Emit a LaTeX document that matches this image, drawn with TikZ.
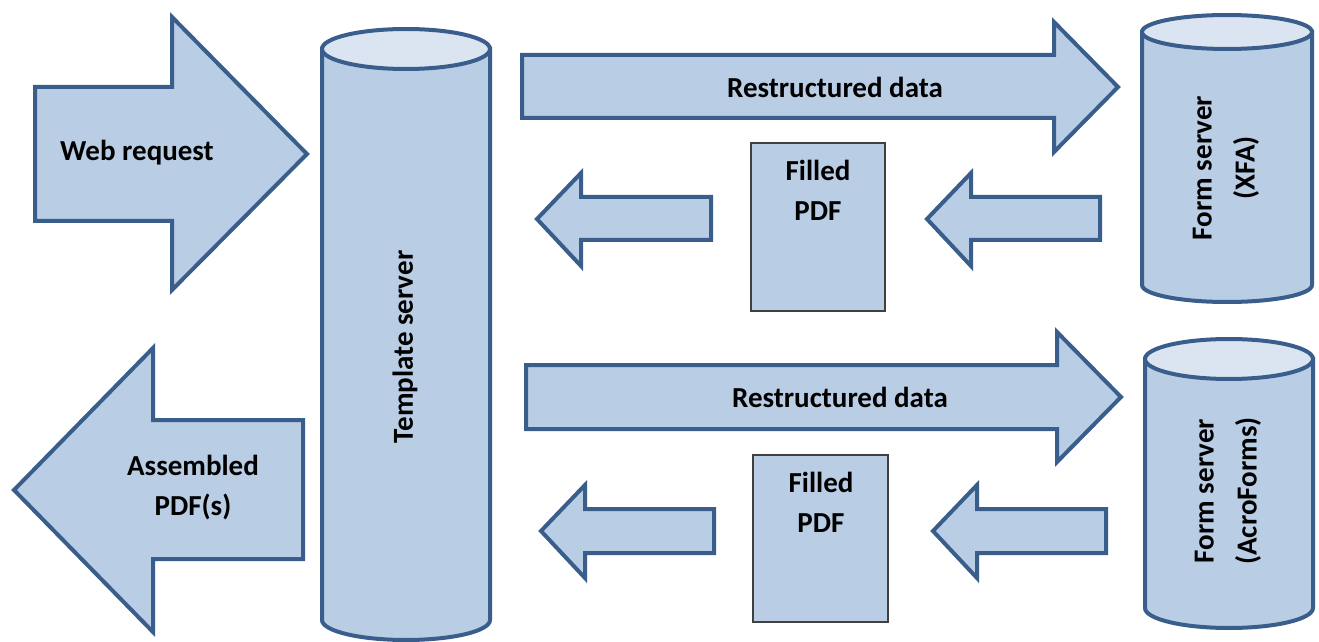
\documentclass[tikz,border=0pt]{standalone}
\usepackage{fontspec}
\setmainfont{Carlito}
\definecolor{fillblue}{HTML}{B9CDE5}
\definecolor{topblue}{HTML}{DBE5F1}
\definecolor{edgeblue}{HTML}{3A5E8C}
\definecolor{boxedge}{HTML}{404040}
\tikzset{
  blockarrow/.style={draw=edgeblue, fill=fillblue, line width=2pt, line join=miter},
  cylbody/.style={draw=edgeblue, fill=fillblue, line width=2pt},
  cyltop/.style={draw=edgeblue, fill=topblue, line width=2pt},
  pdfbox/.style={draw=boxedge, fill=fillblue, line width=1pt},
  lbl/.style={font=\bfseries\fontsize{14.5}{20}\selectfont, align=center, inner sep=0pt},
  widelbl/.style={lbl, font=\bfseries\fontsize{14.5}{21.5}\selectfont}
}
\begin{document}
\begin{tikzpicture}[x=0.5pt,y=-0.5pt]
\useasboundingbox (0,0) rectangle (1319,642);

% incoming request and outgoing result
\draw[blockarrow] (35,87) -- (172,87) -- (172,17) -- (307,154) -- (172,290) -- (172,221) -- (35,221) -- cycle;
\node[lbl] (web) at (137,153) {Web request};
\draw[blockarrow] (14,490) -- (153,348) -- (153,420) -- (303,420) -- (303,559) -- (153,559) -- (153,632) -- cycle;
\node[lbl] (assembled) at (193,488) {Assembled\\PDF(s)};

% template server cylinder
\draw[cylbody] (322,49) -- (322,620) arc[start angle=180,end angle=360,x radius=42pt,y radius=10pt] -- (490,49) -- cycle;
\draw[cyltop] (406,49) ellipse[x radius=42pt,y radius=10pt];
\node[lbl, rotate=90] (template) at (405,347) {Template server};

% form server (XFA) cylinder
\draw[cylbody] (1142,32) -- (1142,285) arc[start angle=180,end angle=360,x radius=42.5pt,y radius=8.5pt] -- (1312,32) -- cycle;
\draw[cyltop] (1227,32) ellipse[x radius=42.5pt,y radius=8.5pt];
\node[widelbl, rotate=90] (xfa) at (1226,168) {Form server\\(XFA)};

% form server (AcroForms) cylinder
\draw[cylbody] (1145,359) -- (1145,608) arc[start angle=180,end angle=360,x radius=42pt,y radius=10pt] -- (1313,608) -- (1313,359) -- cycle;
\draw[cyltop] (1229,359) ellipse[x radius=42pt,y radius=10pt];
\node[widelbl, rotate=90] (acro) at (1228,491) {Form server\\(AcroForms)};

% upper exchange
\draw[blockarrow] (522,55) -- (1054,55) -- (1054,22) -- (1118,87) -- (1054,152) -- (1054,118) -- (522,118) -- cycle;
\node[lbl] (data1) at (835,87) {Restructured data};
\draw[pdfbox] (751,143) rectangle (885,311);
\node[lbl, anchor=north] (pdf1) at (818,160) {Filled\\PDF};
\draw[blockarrow] (537,219) -- (581,173) -- (581,197) -- (711,197) -- (711,240) -- (581,240) -- (581,266) -- cycle;
\draw[blockarrow] (927,219) -- (971,173) -- (971,197) -- (1100,197) -- (1100,240) -- (971,240) -- (971,266) -- cycle;

% lower exchange
\draw[blockarrow] (526,365) -- (1057,365) -- (1057,332) -- (1121,397) -- (1057,462) -- (1057,429) -- (526,429) -- cycle;
\node[lbl] (data2) at (840,397) {Restructured data};
\draw[pdfbox] (753,455) rectangle (888,622);
\node[lbl, anchor=north] (pdf2) at (821,472) {Filled\\PDF};
\draw[blockarrow] (541,531) -- (585,485) -- (585,509) -- (714,509) -- (714,553) -- (585,553) -- (585,578) -- cycle;
\draw[blockarrow] (933,531) -- (977,485) -- (977,509) -- (1106,509) -- (1106,553) -- (977,553) -- (977,578) -- cycle;
\end{tikzpicture}
\end{document}
